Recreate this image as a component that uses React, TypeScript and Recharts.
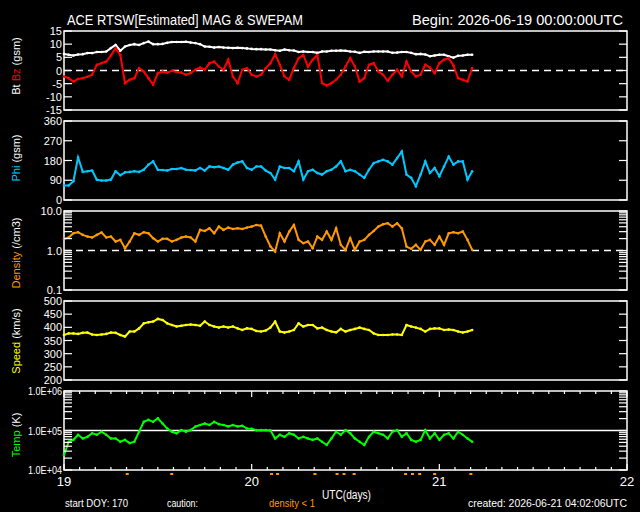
import React from 'react'
import { LineChart, Line, XAxis, YAxis, ReferenceLine, ReferenceArea, ScatterChart, Scatter } from 'recharts'

// time grid: samples every 0.025 day starting at day 19 (UTC)
const startDay = 19
const stepDay = 0.025

const bt = [6.3, 6.0, 5.7, 6.1, 6.2, 6.6, 6.6, 7.0, 7.0, 7.2, 8.5, 9.7, 7.5, 9.1, 9.7, 10.0, 9.7, 10.4, 11.0, 10.0,
  10.0, 10.1, 10.5, 10.8, 10.8, 10.8, 10.9, 10.6, 10.4, 10.0, 9.1, 9.0, 8.7, 8.9, 8.7, 8.6, 8.5, 8.6, 8.5, 8.4,
  8.2, 8.1, 8.1, 8.0, 8.0, 7.7, 7.5, 8.0, 7.7, 7.6, 7.0, 7.2, 7.0, 7.0, 6.7, 7.2, 7.2, 7.5, 7.5, 7.6,
  7.5, 7.2, 7.1, 6.7, 7.1, 7.0, 7.2, 7.2, 7.2, 7.2, 6.7, 6.8, 7.0, 7.0, 6.7, 6.2, 6.3, 6.1, 5.4, 5.7,
  6.0, 6.0, 5.4, 4.9, 5.6, 5.7, 6.0, 6.0]
const bz = [-2.3, -2.9, -4.2, -3.2, -2.9, -2.4, -1.6, 2.2, 2.8, 3.4, 5.7, 8.5, 5.9, -4.8, -3.5, -2.9, 0.9, -0.4, -2.9, -5.4,
  -1.0, -0.4, -0.8, -0.1, -0.6, -0.8, -1.6, -1.0, 0.3, 1.1, 0.3, 2.8, 3.4, 1.5, 0.3, 4.1, -2.3, -4.8, 0.3, 0.9,
  -1.6, -2.3, -1.6, 0.9, 2.8, 6.2, 2.2, -2.3, -3.5, 0.9, 4.7, 5.9, 1.5, 4.1, 5.9, -4.8, -5.7, -4.8, -3.5, -1.6,
  1.5, 4.7, 1.5, -4.2, -2.9, 2.2, 2.8, -0.4, -1.6, -3.9, -1.6, 0.3, -2.3, 3.4, -0.4, -2.3, -1.6, 2.2, 1.1, -1.0,
  2.8, 4.1, 4.7, 1.9, -2.9, -3.5, -4.2, 0.9]
const phi = [66, 66, 86, 194, 128, 131, 134, 92, 89, 89, 93, 131, 113, 126, 128, 131, 128, 138, 161, 176,
  138, 137, 135, 141, 141, 146, 138, 137, 135, 146, 134, 153, 149, 153, 146, 138, 161, 171, 176, 146,
  138, 153, 153, 134, 123, 93, 153, 146, 146, 131, 176, 93, 131, 138, 123, 116, 131, 138, 153, 176,
  131, 138, 131, 116, 101, 138, 168, 176, 183, 176, 161, 191, 221, 116, 101, 63, 116, 176, 123, 146,
  108, 153, 198, 161, 176, 176, 93, 131]
const density = [1.97, 2.13, 2.73, 2.9, 2.48, 2.25, 2.13, 2.48, 2.84, 2.13, 2.25, 1.69, 1.86, 1.14, 1.69, 2.73, 2.48, 2.9, 2.73, 2.05,
  1.69, 1.97, 1.97, 1.69, 1.86, 2.13, 2.25, 2.13, 1.69, 3.32, 3.13, 3.65, 2.73, 4.03, 3.32, 3.8, 3.51, 3.65, 3.51, 3.8,
  4.03, 4.44, 4.26, 2.25, 1.26, 0.94, 2.73, 1.69, 3.01, 4.44, 1.86, 1.53, 1.69, 1.14, 2.25, 1.86, 3.01, 1.86, 3.65, 1.39,
  1.04, 2.05, 1.04, 1.69, 1.86, 2.48, 3.13, 4.03, 4.6, 4.89, 4.03, 4.89, 3.65, 1.26, 1.1, 1.39, 1.04, 1.69, 1.86, 1.39,
  2.25, 1.39, 2.73, 2.9, 2.73, 3.01, 1.86, 1.04]
const speed = [371, 377, 377, 375, 379, 380, 373, 371, 373, 375, 380, 379, 371, 365, 384, 384, 396, 415, 419, 422,
  432, 428, 415, 409, 403, 406, 409, 411, 409, 406, 422, 409, 403, 399, 403, 399, 403, 396, 390, 396,
  394, 386, 384, 388, 399, 422, 384, 380, 384, 390, 415, 403, 409, 409, 396, 399, 390, 384, 381, 394,
  384, 390, 394, 399, 394, 390, 377, 371, 371, 371, 373, 373, 371, 409, 403, 399, 394, 384, 394, 396,
  396, 390, 392, 390, 384, 380, 384, 390]
const temp = [24000, 52000, 58000, 78000, 63000, 69000, 85000, 78000, 93000, 78000,
  63000, 63000, 52000, 58000, 48000, 52000, 93000, 166000, 186000, 166000,
  204000, 151000, 112000, 93000, 85000, 102000, 93000, 102000, 126000, 138000,
  151000, 138000, 166000, 145000, 138000, 126000, 138000, 126000, 132000, 112000,
  110000, 102000, 102000, 102000, 100000, 63000, 78000, 69000, 85000, 78000,
  63000, 69000, 63000, 58000, 63000, 52000, 43000, 63000, 93000, 78000,
  102000, 85000, 63000, 52000, 43000, 69000, 93000, 85000, 78000, 63000,
  93000, 102000, 69000, 85000, 58000, 52000, 58000, 102000, 63000, 85000,
  58000, 78000, 85000, 63000, 93000, 78000, 63000, 52000]

// times (day of month) where density dropped below 1
const lowDensityDays = [19.337, 19.574, 20.106, 20.138, 20.337, 20.455, 20.492, 20.546, 20.82, 20.857, 20.895, 20.975, 21.168]

const dayTicks = Array.from({ length: 37 }, (_, i) => 19 + i / 12)
const btTicks = [-15, -10, -5, 0, 5, 10, 15]
const phiTicks = [0, 90, 180, 270, 360]
const densTicks = [0.1, 0.2, 0.3, 0.4, 0.5, 0.6, 0.7, 0.8, 0.9, 1, 2, 3, 4, 5, 6, 7, 8, 9, 10]
const speedTicks = [200, 250, 300, 350, 400, 450, 500]
const tempTicks = [1e4, 2e4, 3e4, 4e4, 5e4, 6e4, 7e4, 8e4, 9e4, 1e5, 2e5, 3e5, 4e5, 5e5, 6e5, 7e5, 8e5, 9e5, 1e6]
const dayLabels = ['19', '20', '21', '22']

const rows = bt.map((v, i) => ({
  day: startDay + i * stepDay,
  bt: v, bz: bz[i], phi: phi[i], density: density[i], speed: speed[i], temp: temp[i],
}))
const lowRows = lowDensityDays.map((d) => ({ day: d, y: 0.5 }))

const W = 640
const LEFT = 64
const RIGHT = 627
const PLOT_H = 79
const MT = 7
const MB = 7
const FONT = "'Liberation Sans', 'DejaVu Sans', sans-serif"

function makeYTick(label: (v: number) => string, fontSize: number, textLen?: number) {
  return (props: any) => {
    const { y, payload } = props
    const txt = label(payload.value)
    return (
      <g>
        <line x1={LEFT} x2={LEFT + 8} y1={y} y2={y} stroke="#fff" strokeWidth={1.2} />
        <line x1={RIGHT - 8} x2={RIGHT} y1={y} y2={y} stroke="#fff" strokeWidth={1.2} />
        {txt && (
          <text x={LEFT - 2} y={y} textAnchor="end" dominantBaseline="central" fill="#fff" fontSize={fontSize} fontFamily={FONT}
            textLength={textLen} lengthAdjust={textLen ? 'spacingAndGlyphs' : undefined}>
            {txt}
          </text>
        )}
      </g>
    )
  }
}

function makeXTick(showLabels: boolean) {
  return (props: any) => {
    const { x, payload } = props
    const v = payload.value
    const major = Math.abs(v - Math.round(v)) < 1e-6
    const len = major ? 6 : 3
    const top = MT
    const bottom = MT + PLOT_H
    return (
      <g>
        <line x1={x} x2={x} y1={bottom} y2={bottom - len} stroke="#fff" strokeWidth={1.2} />
        <line x1={x} x2={x} y1={top} y2={top + len} stroke="#fff" strokeWidth={1.2} />
        {showLabels && major && (
          <text x={x} y={bottom + 16} textAnchor="middle" fill="#fff" fontSize={13} fontFamily={FONT}>
            {dayLabels[Math.round(v) - 19]}
          </text>
        )}
      </g>
    )
  }
}

type PanelProps = {
  top: number
  domain: [number, number]
  ticks: number[]
  log?: boolean
  label: (v: number) => string
  labelSize?: number
  labelLen?: number
  series: { key: string; color: string }[]
  refY?: number
  refDash?: boolean
  xLabels?: boolean
}

function Panel({ top, domain, ticks, log, label, labelSize = 11, labelLen, series, refY, refDash, xLabels }: PanelProps) {
  const xh = xLabels ? 22 : 0
  return (
    <div style={{ position: 'absolute', left: 0, top: top - MT }}>
      <LineChart width={W} height={PLOT_H + MT + MB + xh} data={rows} margin={{ top: MT, right: W - RIGHT, left: 0, bottom: MB }}>
        <XAxis dataKey="day" type="number" domain={[19, 22]} ticks={dayTicks} interval={0}
          height={xh} axisLine={false} tickLine={false} tick={makeXTick(!!xLabels)} />
        <YAxis type="number" scale={log ? 'log' : 'auto'} domain={domain} ticks={ticks} interval={0}
          allowDataOverflow width={LEFT} axisLine={false} tickLine={false} tick={makeYTick(label, labelSize, labelLen)} />
        <ReferenceArea x1={19} x2={22} y1={domain[0]} y2={domain[1]} fill="none" stroke="#fff" strokeWidth={1.5} ifOverflow="visible" />
        {refY !== undefined && (
          <ReferenceLine y={refY} stroke="#fff" strokeWidth={1.5} strokeDasharray={refDash ? '7 5' : undefined} />
        )}
        {series.map((s) => (
          <Line key={s.key} dataKey={s.key} type="linear" stroke={s.color} strokeWidth={2}
            dot={{ r: 1.3, fill: s.color, stroke: 'none' }} isAnimationActive={false} />
        ))}
      </LineChart>
    </div>
  )
}

function YTitle({ y, children }: { y: number; children: React.ReactNode }) {
  return (
    <text transform={`translate(16,${y}) rotate(-90)`} textAnchor="middle" dominantBaseline="central"
      fill="#fff" fontSize={11} fontFamily={FONT}>
      {children}
    </text>
  )
}

export default function App() {
  return (
    <div style={{ position: 'absolute', left: 0, top: 0, width: W, height: 512, background: '#000', overflow: 'hidden' }}>
      <Panel top={31} domain={[-15, 15]} ticks={btTicks} label={(v) => String(v)} refY={0} refDash
        series={[{ key: 'bt', color: '#ffffff' }, { key: 'bz', color: '#ff0000' }]} />
      <Panel top={121} domain={[0, 360]} ticks={phiTicks} label={(v) => String(v)}
        series={[{ key: 'phi', color: '#00c8ff' }]} />
      <Panel top={211} domain={[0.1, 10]} ticks={densTicks} log refY={1} refDash
        label={(v) => (v === 0.1 ? '0.1' : v === 1 ? '1.0' : v === 10 ? '10.0' : '')}
        series={[{ key: 'density', color: '#ff9900' }]} />
      <Panel top={301} domain={[200, 500]} ticks={speedTicks} label={(v) => String(v)}
        series={[{ key: 'speed', color: '#ffff00' }]} />
      <Panel top={391} domain={[1e4, 1e6]} ticks={tempTicks} log refY={1e5} xLabels labelSize={10.5} labelLen={34}
        label={(v) => (v === 1e4 ? '1.0E+04' : v === 1e5 ? '1.0E+05' : v === 1e6 ? '1.0E+06' : '')}
        series={[{ key: 'temp', color: '#00ff00' }]} />

      <div style={{ position: 'absolute', left: 0, top: 472 }}>
        <ScatterChart width={W} height={4} margin={{ top: 0, right: W - RIGHT, left: LEFT, bottom: 0 }}>
          <XAxis dataKey="day" type="number" domain={[19, 22]} hide />
          <YAxis dataKey="y" type="number" domain={[0, 1]} hide />
          <Scatter data={lowRows} fill="#ff9900" isAnimationActive={false}
            shape={(p: any) => <rect x={p.cx - 1.5} y={p.cy - 1} width={3} height={2} fill="#ff9900" />} />
        </ScatterChart>
      </div>

      <svg width={W} height={512} style={{ position: 'absolute', left: 0, top: 0, pointerEvents: 'none' }}>
        <text x={67} y={25} fill="#fff" fontSize={14} fontFamily={FONT} textLength={236} lengthAdjust="spacingAndGlyphs">
          ACE RTSW[Estimated] MAG &amp; SWEPAM
        </text>
        <text x={412} y={25} fill="#fff" fontSize={14} fontFamily={FONT} textLength={211} lengthAdjust="spacingAndGlyphs">
          Begin: 2026-06-19 00:00:00UTC
        </text>
        <YTitle y={66}>Bt <tspan fill="#ff0000">Bz</tspan> (gsm)</YTitle>
        <YTitle y={158}><tspan fill="#00c8ff">Phi</tspan> (gsm)</YTitle>
        <YTitle y={253}><tspan fill="#ff9900">Density</tspan> (/cm3)</YTitle>
        <YTitle y={341}><tspan fill="#ffff00">Speed</tspan> (km/s)</YTitle>
        <YTitle y={435}><tspan fill="#00ff00">Temp</tspan> (K)</YTitle>
        <text x={322} y={499} fill="#fff" fontSize={12} fontFamily={FONT} textLength={49} lengthAdjust="spacingAndGlyphs">UTC(days)</text>
        <text x={65} y={507} fill="#fff" fontSize={10} fontFamily={FONT} textLength={63} lengthAdjust="spacingAndGlyphs">start DOY: 170</text>
        <text x={167} y={507} fill="#fff" fontSize={10} fontFamily={FONT} textLength={31} lengthAdjust="spacingAndGlyphs">caution:</text>
        <text x={269} y={507} fill="#ff9900" fontSize={10} fontFamily={FONT} textLength={46} lengthAdjust="spacingAndGlyphs">density &lt; 1</text>
        <text x={468} y={507} fill="#fff" fontSize={10} fontFamily={FONT} textLength={159} lengthAdjust="spacingAndGlyphs">created: 2026-06-21 04:02:06UTC</text>
      </svg>
    </div>
  )
}
